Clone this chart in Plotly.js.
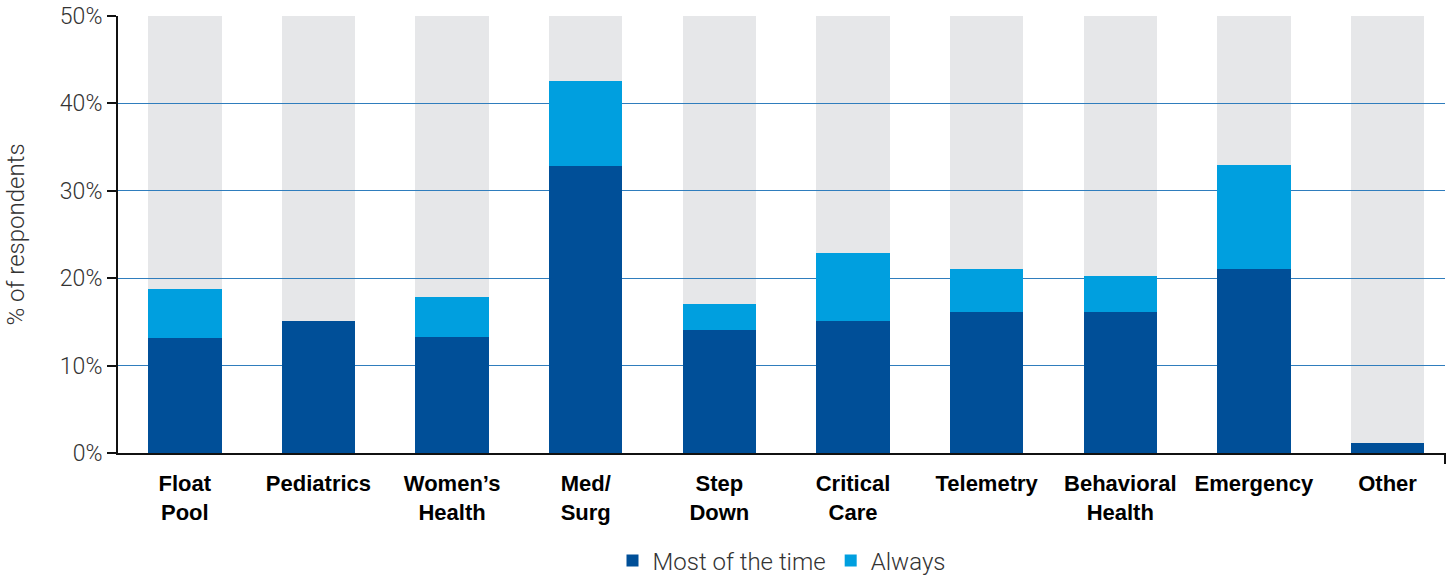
<!DOCTYPE html>
<html>
<head>
<meta charset="utf-8">
<script src="https://cdn.plot.ly/plotly-3.0.1.min.js"></script>
<style>html,body{margin:0;padding:0;background:#fff;}#chart{width:1453px;height:576px;}</style>
</head>
<body>
<div id="chart"></div>
<script>
const categories = ["Float<br>Pool","Pediatrics","Women’s<br>Health","Med/<br>Surg","Step<br>Down","Critical<br>Care","Telemetry","Behavioral<br>Health","Emergency","Other"];
const mostOfTheTime = [13.2, 15.1, 13.3, 32.8, 14.1, 15.1, 16.1, 16.1, 21.0, 1.2];
const always = [5.6, 0, 4.6, 9.8, 2.9, 7.8, 5.0, 4.1, 12.0, 0];
const backgroundScale = [50, 50, 50, 50, 50, 50, 50, 50, 50, 50];
const yTickVals = [0, 10, 20, 30, 40, 50];
const yTickText = ["0%", "10%", "20%", "30%", "40%", "50%"];
const seriesNames = ["Most of the time", "Always"];

const DARK = "#004f98", LIGHT = "#009fdf", GRAY = "#e6e7e9", GRID = "#2f7dbd";
const BAR_W = 0.55;
const XR = [-0.5, 9.43];

const traces = [
  {type: "bar", x: categories, y: backgroundScale, xaxis: "x", yaxis: "y",
   width: BAR_W, marker: {color: GRAY, line: {width: 0}}, showlegend: false, hoverinfo: "skip"},
  {type: "bar", name: seriesNames[0], x: categories, y: mostOfTheTime, xaxis: "x2", yaxis: "y2",
   width: BAR_W, marker: {color: DARK, line: {width: 0}}},
  {type: "bar", name: seriesNames[1], x: categories, y: always, xaxis: "x2", yaxis: "y2",
   width: BAR_W, marker: {color: LIGHT, line: {width: 0}}}
];

const layout = {
  width: 1453, height: 576,
  margin: {l: 118, r: 8, t: 16, b: 123, autoexpand: false},
  paper_bgcolor: "#fff", plot_bgcolor: "rgba(0,0,0,0)",
  barmode: "stack",
  showlegend: true,
  xaxis: {domain: [0, 1], range: XR, type: "category", categoryorder: "array", categoryarray: categories,
          visible: false, fixedrange: true},
  yaxis: {domain: [0, 1], range: [0, 50], visible: false, fixedrange: true},
  xaxis2: {domain: [0, 1], anchor: "y2", range: XR, type: "category", categoryorder: "array", categoryarray: categories,
           showline: true, linecolor: "#111", linewidth: 2, ticks: "", showgrid: false,
           ticklabelstandoff: 10, automargin: false,
           tickfont: {family: "Liberation Sans, Arial, sans-serif", size: 22, color: "#000", weight: "bold"}},
  yaxis2: {domain: [0, 1], anchor: "x2", range: [0, 50], tickvals: yTickVals, ticktext: yTickText,
           showline: true, linecolor: "#111", linewidth: 2, ticks: "outside", ticklen: 9, tickwidth: 2, tickcolor: "#111",
           showgrid: true, gridcolor: GRID, gridwidth: 1, zeroline: false, automargin: false,
           tickfont: {family: "Roboto, sans-serif", size: 23, color: "#333", weight: 300},
           title: {text: "% of respondents", standoff: 28,
                   font: {family: "Roboto, sans-serif", size: 24, color: "#333", weight: 300}}},
  legend: {orientation: "h", x: 0.5, xanchor: "center", y: -0.247, yanchor: "middle",
           font: {family: "Roboto, sans-serif", size: 24, color: "#333", weight: 300},
           traceorder: "normal", itemclick: false, itemdoubleclick: false},
  shapes: [
    {type: "line", xref: "paper", yref: "paper", x0: 1, x1: 1, y0: 0, y1: -0.025,
     line: {color: "#111", width: 2}}
  ]
};

Plotly.newPlot("chart", traces, layout, {displayModeBar: false, staticPlot: true});
</script>
</body>
</html>
